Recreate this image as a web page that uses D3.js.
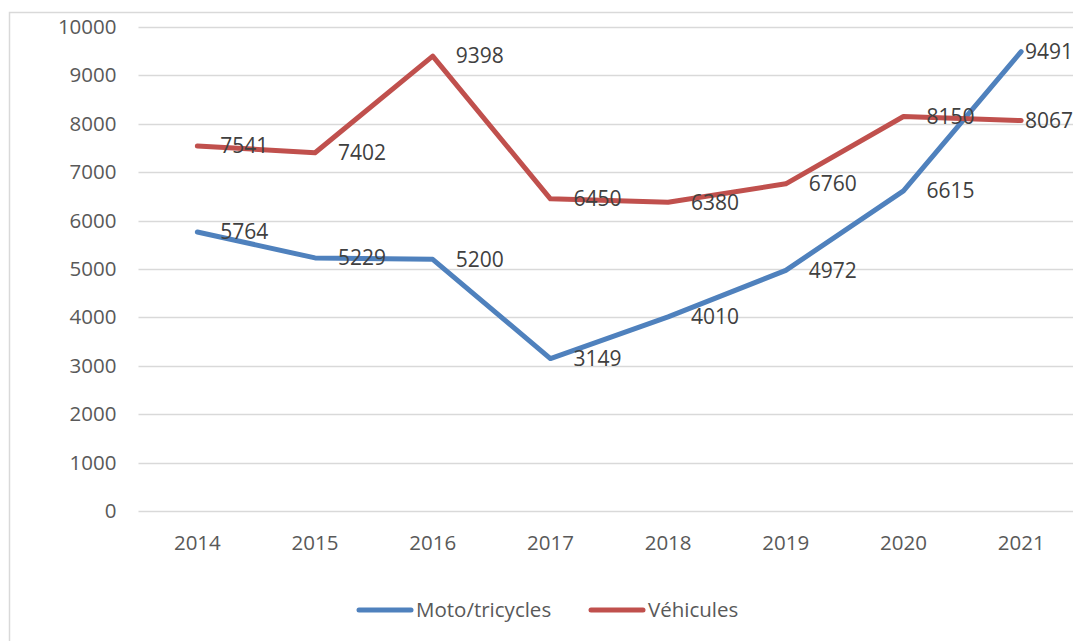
<!DOCTYPE html>
<html lang="en">
<head>
  <meta charset="UTF-8">
  <title>moto-vehicules</title>
  <script src="https://cdn.jsdelivr.net/npm/d3@7"></script>
  <style>
    body { margin: 0; background: #fff; }
    text { font-family: "Open Sans", "Liberation Sans", sans-serif; }
  </style>
</head>
<body>
<div id="chart"></div>
<script>
    let years = ["2014", "2015", "2016", "2017", "2018", "2019", "2020", "2021"];
    let moto = [5764, 5229, 5200, 3149, 4010, 4972, 6615, 9491];
    let vehicules = [7541, 7402, 9398, 6450, 6380, 6760, 8150, 8067];
    let yTicks = [0, 1000, 2000, 3000, 4000, 5000, 6000, 7000, 8000, 9000, 10000];

    let series = [
        {name: "Moto/tricycles", values: moto, color: "#4F81BD"},
        {name: "Véhicules", values: vehicules, color: "#C0504D"}
    ];

    let width = 1073, height = 641;
    let svg = d3.select("#chart").append("svg")
        .attr("width", width).attr("height", height);

    // chart area border
    svg.append("rect").attr("x", 9.5).attr("y", 12.5)
        .attr("width", width + 10).attr("height", height + 10)
        .attr("fill", "none").attr("stroke", "#d9d9d9").attr("stroke-width", 1.5);

    let x = d3.scaleBand().domain(years).range([138.5, 1080]);
    let y = d3.scaleLinear().domain([0, 10000]).range([511, 27]);

    // gridlines
    svg.append("g").selectAll("line").data(yTicks).join("line")
        .attr("x1", 138.5).attr("x2", 1080)
        .attr("y1", d => Math.round(y(d)) + 0.5).attr("y2", d => Math.round(y(d)) + 0.5)
        .attr("stroke", "#d9d9d9").attr("stroke-width", 1.5);

    let yAxis = svg.append("g").attr("transform", "translate(138.5,0)")
        .call(d3.axisLeft(y).tickValues(yTicks).tickSize(0).tickPadding(22).tickFormat(d3.format("d")));
    yAxis.select(".domain").remove();
    yAxis.selectAll("text").attr("fill", "#595959").attr("font-size", 20.5);

    let xAxis = svg.append("g").attr("transform", "translate(0,511)")
        .call(d3.axisBottom(x).tickSize(0).tickPadding(24));
    xAxis.select(".domain").remove();
    xAxis.selectAll("text").attr("fill", "#595959").attr("font-size", 20.5);

    let line = d3.line()
        .x((d, i) => x(years[i]) + x.bandwidth() / 2)
        .y(d => y(d));

    series.forEach(function (s) {
        svg.append("path").datum(s.values)
            .attr("d", line)
            .attr("fill", "none").attr("stroke", s.color)
            .attr("stroke-width", 5).attr("stroke-linecap", "round")
            .attr("stroke-linejoin", "round");
    });

    series.forEach(function (s) {
        svg.append("g").selectAll("text").data(s.values).join("text")
            .attr("x", (d, i) => Math.min(x(years[i]) + x.bandwidth() / 2 + 23, width - 48))
            .attr("y", d => y(d))
            .attr("dy", "0.35em")
            .attr("fill", "#404040").attr("font-size", 21)
            .text(d => d);
    });

    // legend
    let legend = svg.append("g").attr("transform", "translate(0,610)");
    let lx = [359, 591];
    series.forEach(function (s, i) {
        legend.append("line").attr("x1", lx[i]).attr("x2", lx[i] + 52)
            .attr("y1", 0).attr("y2", 0)
            .attr("stroke", s.color).attr("stroke-width", 5).attr("stroke-linecap", "round");
        legend.append("text").attr("x", lx[i] + 57).attr("y", 0).attr("dy", "0.35em")
            .attr("fill", "#595959").attr("font-size", 20.5).text(s.name);
    });
</script>
</body>
</html>
